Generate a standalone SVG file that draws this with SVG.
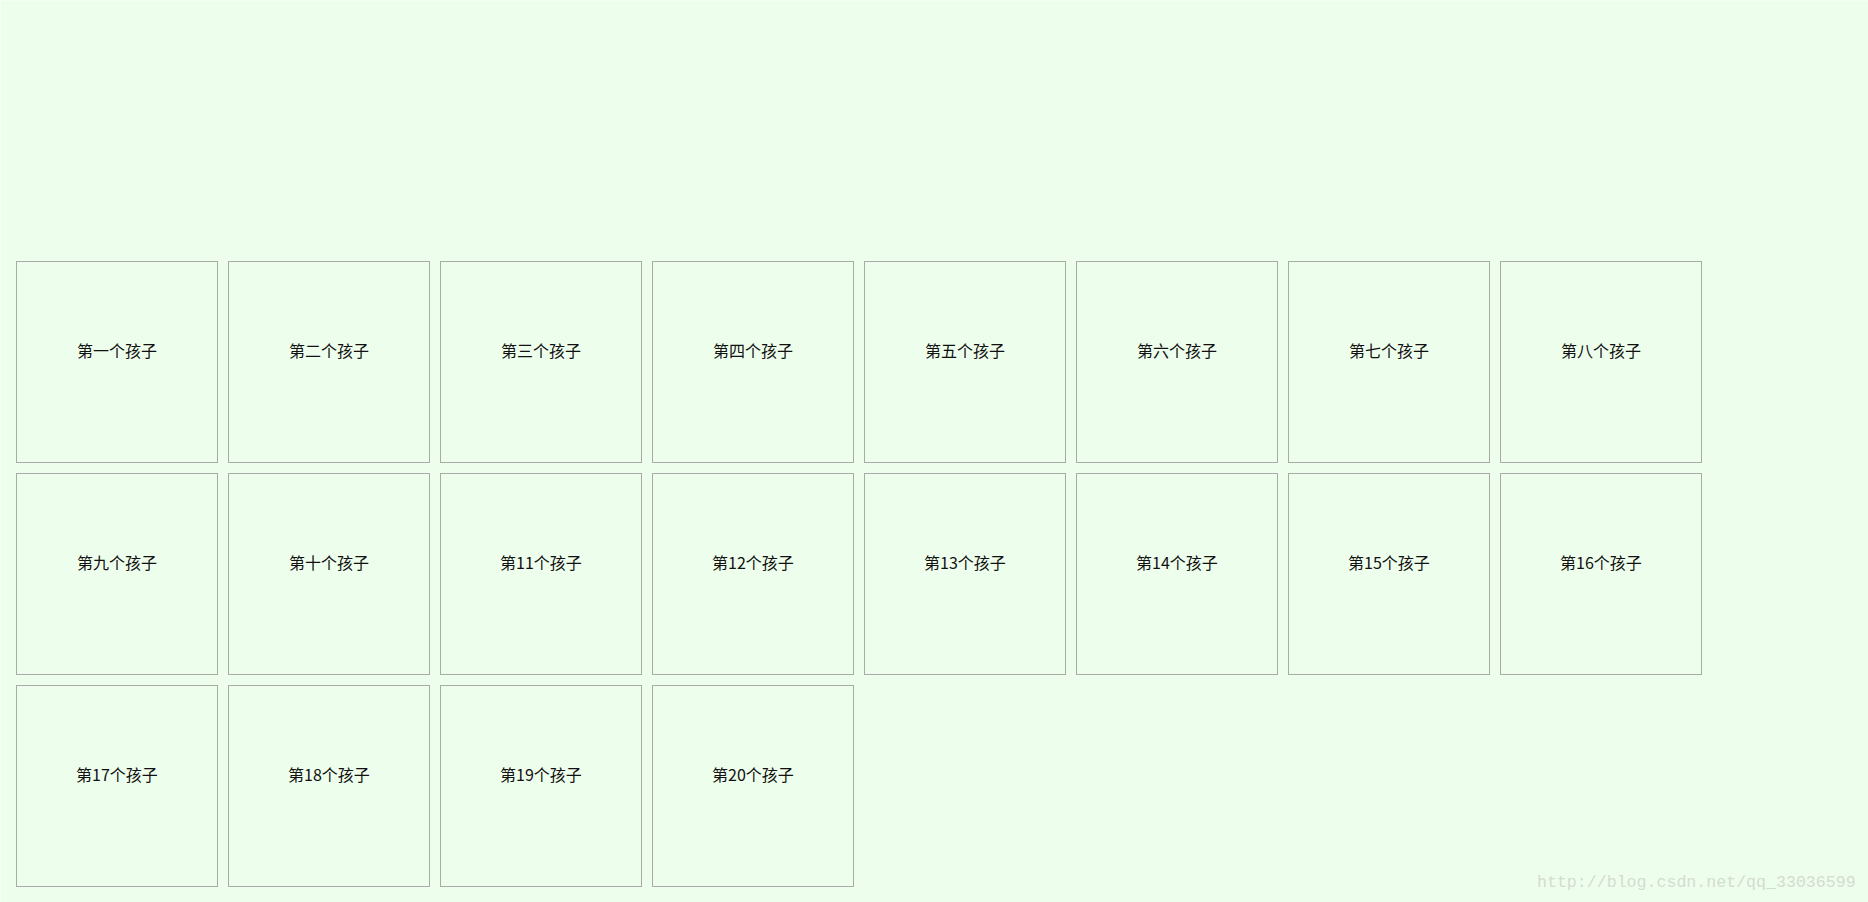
<svg xmlns="http://www.w3.org/2000/svg" width="1868" height="902" viewBox="0 0 1868 902">
<style>
.box{fill:#eefeec;stroke:#a9aba9;stroke-width:1}
.lbl{font-family:"Noto Sans CJK SC","Liberation Sans",sans-serif;font-size:16px;fill:#111;text-anchor:middle}
.wm{font-family:"Liberation Mono",monospace;font-size:16.6px;fill:#d3dcd1}
</style>
<rect x="0" y="0" width="1868" height="902" fill="#f6fff5"/>
<rect x="1" y="1" width="1867" height="901" fill="#eefeec"/>
<g id="n1"><rect class="box" x="16.5" y="261.5" width="201" height="201"/><text class="lbl" x="117" y="357">第一个孩子</text></g>
<g id="n2"><rect class="box" x="228.5" y="261.5" width="201" height="201"/><text class="lbl" x="329" y="357">第二个孩子</text></g>
<g id="n3"><rect class="box" x="440.5" y="261.5" width="201" height="201"/><text class="lbl" x="541" y="357">第三个孩子</text></g>
<g id="n4"><rect class="box" x="652.5" y="261.5" width="201" height="201"/><text class="lbl" x="753" y="357">第四个孩子</text></g>
<g id="n5"><rect class="box" x="864.5" y="261.5" width="201" height="201"/><text class="lbl" x="965" y="357">第五个孩子</text></g>
<g id="n6"><rect class="box" x="1076.5" y="261.5" width="201" height="201"/><text class="lbl" x="1177" y="357">第六个孩子</text></g>
<g id="n7"><rect class="box" x="1288.5" y="261.5" width="201" height="201"/><text class="lbl" x="1389" y="357">第七个孩子</text></g>
<g id="n8"><rect class="box" x="1500.5" y="261.5" width="201" height="201"/><text class="lbl" x="1601" y="357">第八个孩子</text></g>
<g id="n9"><rect class="box" x="16.5" y="473.5" width="201" height="201"/><text class="lbl" x="117" y="569">第九个孩子</text></g>
<g id="n10"><rect class="box" x="228.5" y="473.5" width="201" height="201"/><text class="lbl" x="329" y="569">第十个孩子</text></g>
<g id="n11"><rect class="box" x="440.5" y="473.5" width="201" height="201"/><text class="lbl" x="541" y="569">第11个孩子</text></g>
<g id="n12"><rect class="box" x="652.5" y="473.5" width="201" height="201"/><text class="lbl" x="753" y="569">第12个孩子</text></g>
<g id="n13"><rect class="box" x="864.5" y="473.5" width="201" height="201"/><text class="lbl" x="965" y="569">第13个孩子</text></g>
<g id="n14"><rect class="box" x="1076.5" y="473.5" width="201" height="201"/><text class="lbl" x="1177" y="569">第14个孩子</text></g>
<g id="n15"><rect class="box" x="1288.5" y="473.5" width="201" height="201"/><text class="lbl" x="1389" y="569">第15个孩子</text></g>
<g id="n16"><rect class="box" x="1500.5" y="473.5" width="201" height="201"/><text class="lbl" x="1601" y="569">第16个孩子</text></g>
<g id="n17"><rect class="box" x="16.5" y="685.5" width="201" height="201"/><text class="lbl" x="117" y="781">第17个孩子</text></g>
<g id="n18"><rect class="box" x="228.5" y="685.5" width="201" height="201"/><text class="lbl" x="329" y="781">第18个孩子</text></g>
<g id="n19"><rect class="box" x="440.5" y="685.5" width="201" height="201"/><text class="lbl" x="541" y="781">第19个孩子</text></g>
<g id="n20"><rect class="box" x="652.5" y="685.5" width="201" height="201"/><text class="lbl" x="753" y="781">第20个孩子</text></g>
<g id="connectors"></g>
<text class="wm" x="1537" y="887">http://blog.csdn.net/qq_33036599</text>
</svg>
